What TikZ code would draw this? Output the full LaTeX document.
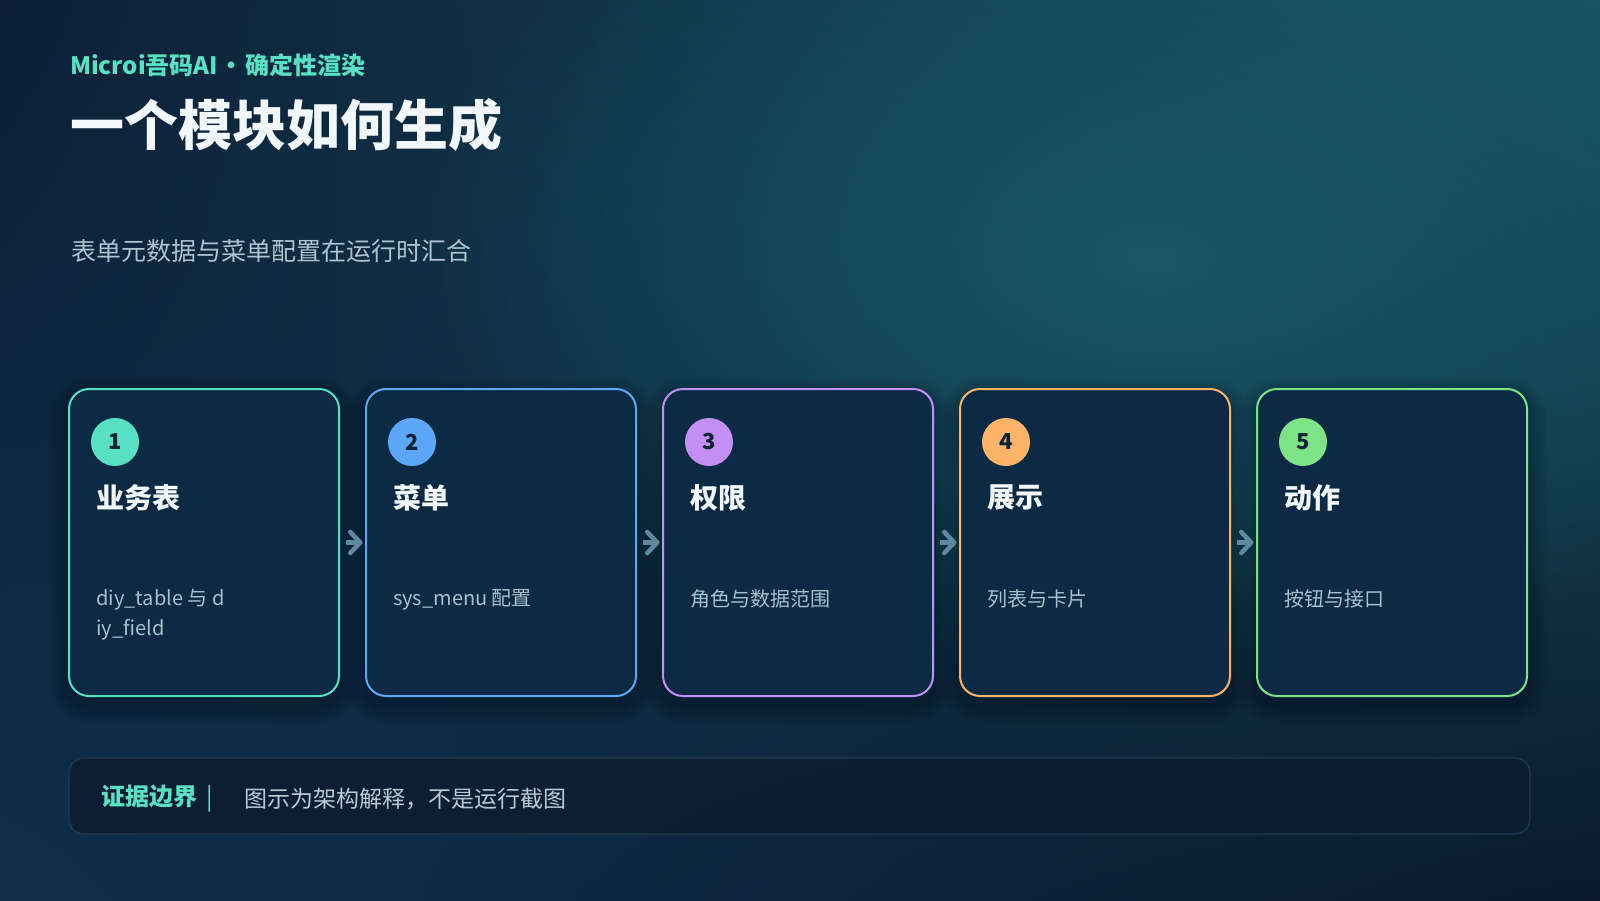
\documentclass[tikz,border=0pt]{standalone}
\usepackage{fontspec}
\setmainfont{Noto Sans CJK SC}
\usetikzlibrary{arrows.meta}
\usetikzlibrary{fadings}
\usetikzlibrary{shadings}
\usetikzlibrary{backgrounds}
\definecolor{bgtl}{HTML}{0C1F36}
\definecolor{bgtr}{HTML}{175563}
\definecolor{bgbl}{HTML}{0F2F4D}
\definecolor{bgbr}{HTML}{0A1A2C}
\definecolor{bgglow}{HTML}{18596B}
\definecolor{cardfill}{HTML}{0D2A45}
\definecolor{c1}{HTML}{58E0C2}
\definecolor{c2}{HTML}{5BA6F6}
\definecolor{c3}{HTML}{C48FF5}
\definecolor{c4}{HTML}{FDB469}
\definecolor{c5}{HTML}{7EE386}
\definecolor{badgetext}{HTML}{0F2236}
\definecolor{titletext}{HTML}{F2F7FA}
\definecolor{subtext}{HTML}{AFC2CF}
\definecolor{desctext}{HTML}{A9BFCC}
\definecolor{arrowcol}{HTML}{5E8A9F}
\definecolor{notefill}{HTML}{0C1D31}
\definecolor{noteline}{HTML}{1F3C53}
\definecolor{notetext}{HTML}{B9C9D4}
\tikzfading[name=glow, inner color=transparent!10, outer color=transparent!100]

\begin{document}
\begin{tikzpicture}[x=1pt, y=-1pt, >={Straight Barb[length=10pt,width=21pt,round]},
    card/.style={draw=#1, line width=2pt, fill=cardfill, rounded corners=20pt, minimum width=270pt, minimum height=307pt},
    badge/.style={circle, fill=#1, minimum size=48pt, inner sep=0pt, text=badgetext, font=\fontsize{22}{26}\selectfont\bfseries},
    cardtitle/.style={anchor=west, inner sep=0pt, text=titletext, font=\fontsize{28}{34}\selectfont\bfseries},
    carddesc/.style={anchor=north west, inner sep=0pt, align=left, text=desctext, font=\fontsize{20}{30}\selectfont},
    flow/.style={->, line width=4.5pt, draw=arrowcol, shorten <=6pt, shorten >=2.5pt}]
         \useasboundingbox (0,0) rectangle (1600,900);

         \node[anchor=west, inner sep=0pt, text=c1, font=\fontsize{24}{28}\selectfont\bfseries] (kicker) at (70,65) {Microi吾码AI\hspace{2pt}・\hspace{2pt}确定性渲染};
         \node[anchor=west, inner sep=0pt, text=titletext, font=\fontsize{54}{60}\selectfont\bfseries] (headline) at (70,124.5) {一个模块如何生成};
         \node[anchor=west, inner sep=0pt, text=subtext, font=\fontsize{25}{30}\selectfont] (lead) at (71,251) {表单元数据与菜单配置在运行时汇合};

         \node[card=c1] (card1) at (204,542.5) {};
         \node[card=c2] (card2) at (501,542.5) {};
         \node[card=c3] (card3) at (798,542.5) {};
         \node[card=c4] (card4) at (1095,542.5) {};
         \node[card=c5] (card5) at (1392,542.5) {};

         \node[badge=c1] (num1) at ([shift={(47,54)}]card1.north west) {1};
         \node[badge=c2] (num2) at ([shift={(47,54)}]card2.north west) {2};
         \node[badge=c3] (num3) at ([shift={(47,54)}]card3.north west) {3};
         \node[badge=c4] (num4) at ([shift={(47,54)}]card4.north west) {4};
         \node[badge=c5] (num5) at ([shift={(47,54)}]card5.north west) {5};

         \node[cardtitle] (name1) at ([shift={(28,110)}]card1.north west) {业务表};
         \node[cardtitle] (name2) at ([shift={(28,110)}]card2.north west) {菜单};
         \node[cardtitle] (name3) at ([shift={(28,110)}]card3.north west) {权限};
         \node[cardtitle] (name4) at ([shift={(28,110)}]card4.north west) {展示};
         \node[cardtitle] (name5) at ([shift={(28,110)}]card5.north west) {动作};

         \node[carddesc] (desc1) at ([shift={(28,201)}]card1.north west) {diy\_table 与 d\\iy\_field};
         \node[carddesc] (desc2) at ([shift={(28,201)}]card2.north west) {sys\_menu 配置};
         \node[carddesc] (desc3) at ([shift={(28,201)}]card3.north west) {角色与数据范围};
         \node[carddesc] (desc4) at ([shift={(28,201)}]card4.north west) {列表与卡片};
         \node[carddesc] (desc5) at ([shift={(28,201)}]card5.north west) {按钮与接口};

         \draw[flow] (card1) -- (card2);
         \draw[flow] (card2) -- (card3);
         \draw[flow] (card3) -- (card4);
         \draw[flow] (card4) -- (card5);

         \node[draw=noteline, line width=1.2pt, fill=notefill, fill opacity=.9, rounded corners=15pt, minimum width=1461pt, minimum height=76pt] (note) at (799.5,796) {};
         \node[anchor=west, inner sep=0pt, text=c1, font=\fontsize{24}{28}\selectfont\bfseries] (notekey) at (101,799) {证据边界\hspace{9pt}{\mdseries|}};
         \node[anchor=west, inner sep=0pt, text=notetext, font=\fontsize{23}{28}\selectfont] (notebody) at (244,799) {图示为架构解释，不是运行截图};

         \begin{scope}[on background layer]
         \shade[upper left=bgtl, upper right=bgtr, lower left=bgbl, lower right=bgbr] (0,0) rectangle (1600,900);
         \fill[bgglow, path fading=glow] (1150,260) ellipse (760 and 430);
         \foreach \n in {1,...,5}
           \foreach \g in {3,6,...,18}
             \fill[black, opacity=.035, rounded corners=20pt+\g pt] ([shift={(-\g,-\g+8)}]card\n.north west) rectangle ([shift={(\g,\g+8)}]card\n.south east);
         \end{scope}
        \end{tikzpicture}
\end{document}
